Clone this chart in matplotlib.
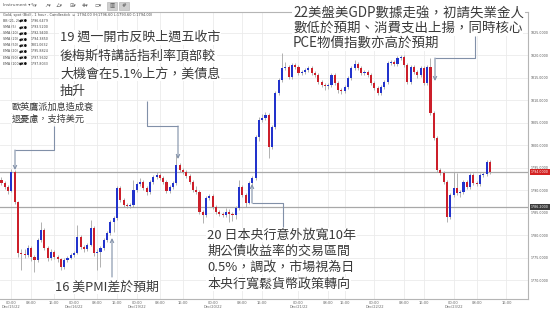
import matplotlib
matplotlib.use('Agg')
import matplotlib.pyplot as plt
from matplotlib.patches import Rectangle

plt.rcParams['font.family'] = ['Noto Sans CJK TC', 'DejaVu Sans']

W, H = 550, 309

# hourly candles (open of each bar = close of the previous one)
open0 = 1792.2
closes = [1791.6, 1790.7, 1789.8, 1794.0, 1787.3, 1776.0, 1775.8, 1775.6, 1777.1, 1775.1,
          1774.4, 1778.9, 1781.1, 1777.1, 1774.9, 1776.2, 1775.1, 1774.7, 1772.9, 1774.4,
          1774.9, 1775.6, 1776.0, 1779.6, 1777.3, 1776.9, 1777.8, 1781.6, 1776.0, 1776.2,
          1777.1, 1778.9, 1780.4, 1782.9, 1783.8, 1790.4, 1787.8, 1786.7, 1786.4, 1786.7,
          1790.0, 1791.3, 1791.8, 1790.4, 1789.6, 1791.8, 1792.9, 1793.3, 1792.7, 1791.8,
          1789.8, 1790.7, 1791.6, 1795.6, 1794.4, 1794.0, 1793.1, 1791.8, 1790.0, 1789.6,
          1785.1, 1784.4, 1788.2, 1788.7, 1786.2, 1785.1, 1784.7, 1784.4, 1785.1, 1784.7,
          1784.4, 1786.0, 1790.7, 1788.9, 1787.1, 1791.6, 1792.7, 1801.8, 1805.6, 1806.0,
          1806.7, 1799.6, 1804.0, 1811.6, 1814.4, 1817.1, 1817.3, 1815.1, 1817.8, 1817.3,
          1816.0, 1816.2, 1816.7, 1817.1, 1816.0, 1815.6, 1814.0, 1813.3, 1813.1, 1813.3,
          1815.6, 1813.8, 1812.2, 1812.0, 1812.9, 1814.9, 1817.1, 1818.0, 1817.1, 1816.0,
          1816.2, 1815.6, 1813.8, 1812.7, 1811.6, 1812.9, 1814.0, 1818.2, 1818.4, 1818.0,
          1819.3, 1819.6, 1817.8, 1814.0, 1817.3, 1816.2, 1815.6, 1817.1, 1813.8, 1817.3,
          1807.1, 1801.6, 1794.4, 1793.8, 1791.8, 1784.0, 1788.9, 1790.4, 1789.3, 1789.6,
          1791.8, 1790.7, 1793.3, 1791.6, 1791.3, 1793.3, 1793.6, 1796.2, 1794.0]
highs = [1792.8, 1792.0, 1791.1, 1794.6, 1794.5, 1787.6, 1776.8, 1776.9, 1777.8, 1777.6,
         1775.5, 1779.4, 1782.9, 1781.5, 1777.6, 1776.9, 1776.6, 1775.6, 1775.0, 1774.8,
         1775.3, 1776.0, 1776.5, 1782.2, 1780.0, 1777.8, 1778.2, 1783.3, 1782.0, 1776.8,
         1777.5, 1779.3, 1780.9, 1783.3, 1784.3, 1790.9, 1790.8, 1788.2, 1787.1, 1787.2,
         1792.2, 1791.8, 1792.6, 1792.3, 1790.8, 1792.2, 1793.4, 1794.0, 1793.7, 1793.1,
         1792.2, 1791.1, 1792.0, 1797.8, 1796.0, 1794.8, 1794.4, 1793.5, 1792.2, 1790.8,
         1790.0, 1785.6, 1788.7, 1789.2, 1789.1, 1786.6, 1785.5, 1785.1, 1785.9, 1785.8,
         1785.2, 1786.5, 1792.2, 1791.1, 1789.3, 1792.0, 1793.2, 1802.3, 1806.2, 1806.8,
         1807.3, 1807.1, 1804.5, 1812.1, 1815.0, 1820.4, 1818.4, 1817.8, 1818.3, 1818.2,
         1817.7, 1816.7, 1817.1, 1817.6, 1817.5, 1816.4, 1816.0, 1814.4, 1813.7, 1813.8,
         1816.1, 1816.0, 1814.2, 1812.6, 1813.3, 1815.3, 1817.6, 1818.9, 1818.4, 1817.5,
         1816.7, 1816.6, 1816.0, 1814.2, 1813.1, 1813.3, 1814.5, 1818.7, 1818.9, 1818.8,
         1819.7, 1820.0, 1820.0, 1818.2, 1817.8, 1817.7, 1816.6, 1817.5, 1817.5, 1817.8,
         1819.3, 1807.5, 1802.0, 1794.8, 1794.2, 1792.2, 1789.3, 1794.0, 1793.8, 1790.0,
         1792.2, 1792.2, 1793.7, 1793.7, 1792.0, 1793.7, 1794.1, 1796.7, 1796.6]
lows = [1791.2, 1790.2, 1789.2, 1789.5, 1787.0, 1775.2, 1772.2, 1774.9, 1775.2, 1774.3,
        1771.8, 1774.0, 1778.5, 1776.6, 1774.2, 1774.5, 1774.6, 1774.0, 1772.3, 1772.5,
        1774.0, 1774.6, 1775.2, 1775.7, 1776.9, 1776.3, 1776.5, 1777.5, 1775.4, 1772.2,
        1773.0, 1776.7, 1778.5, 1780.0, 1780.6, 1783.4, 1787.3, 1786.2, 1786.0, 1785.9,
        1786.3, 1789.6, 1790.9, 1789.9, 1789.0, 1789.2, 1791.4, 1792.5, 1792.2, 1791.3,
        1789.3, 1789.4, 1790.3, 1791.2, 1794.0, 1793.5, 1792.7, 1791.3, 1789.6, 1789.1,
        1784.6, 1782.7, 1784.0, 1787.8, 1785.8, 1784.6, 1784.2, 1783.9, 1784.0, 1782.9,
        1783.1, 1783.6, 1785.6, 1788.4, 1786.2, 1786.8, 1791.2, 1792.3, 1801.0, 1805.1,
        1805.6, 1797.1, 1799.2, 1803.6, 1811.2, 1814.0, 1816.6, 1814.6, 1814.7, 1816.8,
        1815.5, 1815.6, 1815.8, 1816.3, 1815.6, 1815.1, 1813.6, 1812.8, 1812.2, 1812.5,
        1812.9, 1813.3, 1811.6, 1811.3, 1811.6, 1812.5, 1814.5, 1816.7, 1816.6, 1815.5,
        1815.6, 1815.1, 1813.3, 1812.2, 1811.1, 1811.2, 1812.5, 1813.6, 1817.8, 1817.6,
        1817.6, 1818.9, 1817.3, 1813.5, 1813.6, 1815.7, 1815.0, 1815.2, 1813.3, 1813.4,
        1806.6, 1801.1, 1793.9, 1793.3, 1791.3, 1782.9, 1783.6, 1788.5, 1788.8, 1788.4,
        1789.2, 1790.2, 1790.3, 1791.1, 1790.8, 1790.9, 1792.9, 1793.2, 1793.6]

level_line = 1786.2
price_ticks = [1770, 1775, 1780, 1785, 1790, 1795, 1800, 1805, 1810, 1815, 1820, 1825]
time_pos = [3, 9, 16, 22, 29, 35, 41, 48, 55, 64, 73, 79, 90, 99, 104, 113, 122, 128, 137, 144, 153]
time_labels = ['00:00\nDec/15/22', '08:00', '16:00', '00:00\nDec/16/22', '08:00', '16:00',
               '00:00\nDec/19/22', '08:00', '16:00', '00:00\nDec/20/22', '08:00', '16:00',
               '00:00\nDec/21/22', '08:00', '16:00', '00:00\nDec/22/22', '08:00', '16:00',
               '00:00\nDec/23/22', '08:00', '16:00']

legend_names = ['BB (21, 2)', 'SMA (5)', 'SMA (10)', 'SMA (20)', 'SMA (50)', 'EMA (20)', 'EMA (50)', 'EMA (100)']
legend_vals = ['1796.6479', '1793.5200', '1792.9400', '1794.3850', '1801.0632', '1795.8824', '1797.9602', '1797.8033']

note19 = ['19 週一開市反映上週五收市', '後梅斯特講話指利率頂部較', '大機會在5.1%上方，美債息', '抽升']
note_eu = ['歐英鷹派加息造成衰', '退憂慮，支持美元']
note16 = ['16 美PMI差於預期']
note20 = ['20 日本央行意外放寬10年', '期公債收益率的交易區間', '0.5%，調改，市場視為日', '本央行寬鬆貨幣政策轉向']
note22 = ['22美盤美GDP數據走強，初請失業金人', '數低於預期、消費支出上揚，同時核心', 'PCE物價指數亦高於預期']

fig = plt.figure(figsize=(W / 100, H / 100), dpi=100)
ax = fig.add_axes([0, 10 / H, 528 / W, 287 / H])

opens = [open0] + closes[:-1]
idx = list(range(len(closes)))
up = [c >= o for o, c in zip(opens, closes)]
colors = ['#2233cc' if u else '#cc1f2a' for u in up]
bottoms = [min(o, c) for o, c in zip(opens, closes)]
heights = [max(abs(c - o), 0.25) for o, c in zip(opens, closes)]

ax.vlines(idx, lows, highs, color='#a5a5a5', lw=0.6, zorder=2)
ax.bar(idx, heights, bottom=bottoms, width=0.66, color=colors, linewidth=0, zorder=3)

ax.axhline(closes[-1], color='#a8a8a8', lw=0.9, zorder=1)
ax.axhline(level_line, color='#a8a8a8', lw=0.9, zorder=1)

ax.set_xlim(-1.5 / 3.3, 526.5 / 3.3)
ax.set_ylim(1765.78, 1829.56)
ax.set_xticks(time_pos)
ax.set_xticklabels(time_labels, fontsize=2.6, color='#666666', family='DejaVu Sans', linespacing=1.0)
ax.yaxis.tick_right()
ax.set_yticks(price_ticks)
ax.set_yticklabels([f'{p:.4f}' for p in price_ticks], fontsize=2.3, color='#555555', family='DejaVu Sans')
ax.tick_params(length=0, pad=1.5)
ax.tick_params(axis='y', pad=2.2)
ax.grid(color='#ebebeb', lw=0.6)
ax.set_axisbelow(True)
for s in ['top', 'bottom', 'right']:
    ax.spines[s].set_color('#b5b5b5')
    ax.spines[s].set_linewidth(0.8)
ax.spines['left'].set_visible(False)

ytr = ax.get_yaxis_transform()
ax.text(1.005, closes[-1], f'{closes[-1]:.4f}', transform=ytr, fontsize=2.3, color='white',
        va='center', ha='left', family='DejaVu Sans', bbox=dict(fc='#d42222', ec='none', pad=0.8))
ax.text(1.005, level_line, f'{level_line:.4f}', transform=ytr, fontsize=2.3, color='white',
        va='center', ha='left', family='DejaVu Sans', bbox=dict(fc='#3c3c3c', ec='none', pad=0.8))

# overlay in pixel units for the toolbar and the notes
ov = fig.add_axes([0, 0, 1, 1], zorder=5)
ov.set_xlim(0, W)
ov.set_ylim(H, 0)
ov.axis('off')
ov.patch.set_alpha(0)

ov.text(3, 5.5, 'Instrument ▾', fontsize=3.2, va='center', family='DejaVu Sans', color='#555555')
for x, g in zip([31, 44, 56, 69, 82, 95], ['✎▾', '↗▾', '∠▾', '⊞▾', '✚▾', '▭▾']):
    ov.text(x, 5.5, g, fontsize=3.6, va='center', family='DejaVu Sans', color='#666666')
for x in [107, 119]:
    ov.add_patch(Rectangle((x, 1.5), 10, 8, fc='#cfcfcf', ec='#b0b0b0', lw=0.4))
ov.text(112, 5.5, '▥', fontsize=4, ha='center', va='center', family='DejaVu Sans', color='#555555')
ov.text(124, 5.5, '#', fontsize=4, ha='center', va='center', family='DejaVu Sans', color='#555555')

ov.text(3, 15, 'Gold, spot (Bid) - 1 hour - Candlestick  \u25ab  1794.00 (H:1796.60 L:1793.60 C:1794.00)',
        fontsize=2.5, va='center', family='DejaVu Sans', color='#444444')
for k, (nm, v) in enumerate(zip(legend_names, legend_vals)):
    y = 21 + k * 6.1
    ov.text(3, y, nm, fontsize=2.3, va='center', family='DejaVu Sans', color='#444444')
    ov.text(19, y, '◆✖●', fontsize=2.6, va='center', family='DejaVu Sans', color='#111111')
    ov.text(31, y, v, fontsize=2.3, va='center', family='DejaVu Sans', color='#444444')

txt_col = '#3a3a3a'


def note(lines, x, ys, size):
    for s, y in zip(lines, ys):
        ov.text(x, y, s, fontsize=size, va='center', ha='left', color=txt_col,
                bbox=dict(fc='white', ec='none', pad=0.6))


note(note19, 60, [37.5, 56, 74, 91], 9.4)
note(note_eu, 12, [107.5, 119], 6.6)
note(note16, 55, [287], 9.3)
note(note20, 207, [235, 251, 267, 284], 9.4)
note(note22, 293, [12.5, 28, 43], 9.7)

lc = '#8190a8'
aprops = dict(arrowstyle='->', color=lc, lw=0.8, shrinkA=0, shrinkB=0, mutation_scale=6)


def connector(xs, ys):
    ov.plot(xs[:-1], ys[:-1], color=lc, lw=0.8, solid_capstyle='butt')
    ov.annotate('', xy=(xs[-1], ys[-1]), xytext=(xs[-2], ys[-2]), arrowprops=aprops)


connector([147, 147, 178, 178], [101, 126, 126, 159])
connector([54, 54, 15, 15], [126, 150, 150, 170])
connector([112, 112], [277, 238])
connector([283, 283, 252, 252], [227, 203, 203, 184])
connector([475, 475, 435, 435], [36, 58, 58, 81])

fig.savefig('out.png', dpi=100)
